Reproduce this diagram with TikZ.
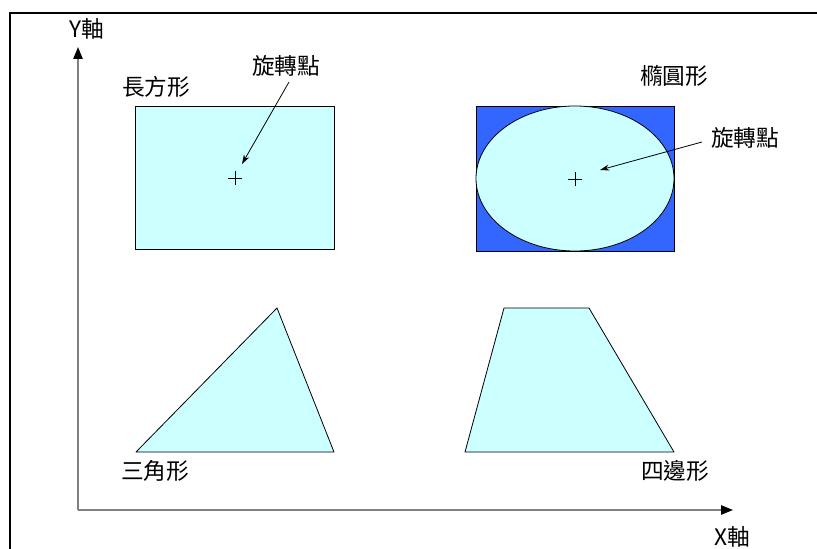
\documentclass[tikz,border=0pt]{standalone}
\usepackage{fontspec}
\setmainfont{Liberation Sans}
\newfontfamily\cjk{Noto Sans CJK TC}
\usetikzlibrary{arrows.meta}
\definecolor{shapefill}{HTML}{CCFFFF}
\definecolor{bluefill}{HTML}{3366FF}
\definecolor{axisgray}{HTML}{808080}
\tikzset{
  lbl/.style={font=\cjk\fontsize{17}{20}\selectfont, inner sep=0pt},
  shp/.style={draw=black, fill=shapefill, line width=0.6pt, line join=round},
  axisline/.style={draw=axisgray, line width=1.2pt, -{Triangle[length=9pt,width=7pt,color=black]}},
  leader/.style={draw=black, line width=0.6pt, -{Stealth[length=7pt,width=4.5pt]}},
  crossmark/.style={draw=black, line width=0.5pt},
}
\begin{document}
\begin{tikzpicture}[x=0.75pt,y=-0.75pt]
\useasboundingbox (0,0) rectangle (817,549);
% frame
\draw[line width=1.6pt] (10,549) -- (10,13) -- (817,13);
% axes
\coordinate (O) at (78,510);
\coordinate (ytip) at (78,47);
\coordinate (xtip) at (733,510);
\draw[axisline] (O) -- (ytip);
\draw[axisline] (O) -- (xtip);
\node[lbl] (ylab) at (87,29) {Y軸};
\node[lbl] (xlab) at (732,537) {X軸};
% rectangle
\draw[shp] (135,106) rectangle (334,249);
\coordinate (rc) at (235,178);
\draw[crossmark] (228,178) -- (242,178) (235,171) -- (235,185);
\node[lbl] (rlab) at (156,87) {長方形};
\node[lbl] (rrot) at (286,66) {旋轉點};
\coordinate (rs) at (289,82);
\coordinate (re) at (242,164);
\draw[leader] (rs) -- (re);
% ellipse
\draw[draw=black, fill=bluefill, line width=0.6pt] (476,106) rectangle (674,251);
\draw[shp] (575,178.5) ellipse [x radius=99, y radius=72.5];
\draw[crossmark] (568,179) -- (582,179) (575,172) -- (575,186);
\node[lbl] (elab) at (674,76) {橢圓形};
\node[lbl] (erot) at (745,138) {旋轉點};
\coordinate (es) at (702,142);
\coordinate (ee) at (600,170);
\draw[leader] (es) -- (ee);
% triangle
\draw[shp] (136,452) -- (277,308) -- (334,452) -- cycle;
\node[lbl] (tlab) at (155,471) {三角形};
% trapezoid
\draw[shp] (465,452) -- (504,308) -- (589,308) -- (674,452) -- cycle;
\node[lbl] (qlab) at (675,471) {四邊形};
\end{tikzpicture}
\end{document}
